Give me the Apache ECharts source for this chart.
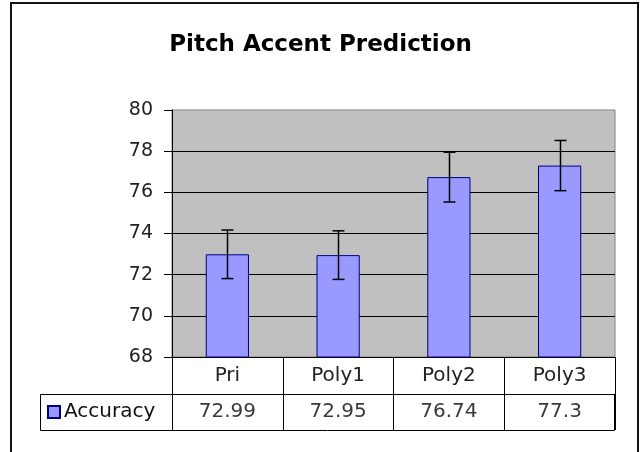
<!DOCTYPE html>
<html>
<head>
<meta charset="utf-8">
<script src="https://cdn.jsdelivr.net/npm/echarts@6/dist/echarts.min.js"></script>
<style>
  html, body { margin: 0; padding: 0; background: #fff; }
  #chart { width: 641px; height: 452px; }
</style>
</head>
<body>
<div id="chart"></div>
<script>
var categories = ['Pri', 'Poly1', 'Poly2', 'Poly3'];
var accuracy = [72.99, 72.95, 76.74, 77.3];
var errors = [1.18, 1.18, 1.21, 1.22];
var yTicks = {min: 68, max: 80, interval: 2};

var font = 'DejaVu Sans, Liberation Sans, sans-serif';
var chart = echarts.init(document.getElementById('chart'));

var option = {
  backgroundColor: '#fff',
  animation: false,
  title: {
    text: 'Pitch Accent Prediction',
    left: 'center',
    top: 34,
    padding: 0,
    textStyle: {fontFamily: font, fontWeight: 'bold', fontSize: 23, color: '#000'}
  },
  legend: {
    data: ['Accuracy'],
    left: 47,
    top: 402,
    padding: 0,
    icon: 'rect',
    itemWidth: 12,
    itemHeight: 12,
    itemGap: 5,
    textStyle: {fontFamily: font, fontSize: 20, color: '#111', padding: [0, 0, 0, -1]}
  },
  grid: {
    left: 172, right: 26, top: 110, bottom: 95,
    show: true,
    backgroundColor: '#C0C0C0',
    borderColor: '#808080',
    borderWidth: 1
  },
  xAxis: [
    {
      type: 'category',
      data: categories,
      position: 'bottom',
      axisLine: {show: true, lineStyle: {color: '#000', width: 1}},
      axisTick: {show: true, length: 37, lineStyle: {color: '#000'}},
      axisLabel: {fontFamily: font, fontSize: 20, color: '#222', margin: 19, verticalAlign: 'middle'},
      splitLine: {show: false}
    },
    {
      type: 'category',
      data: categories,
      position: 'bottom',
      offset: 37,
      axisLine: {show: true, lineStyle: {color: '#000', width: 1}},
      axisTick: {show: true, length: 36, lineStyle: {color: '#000'}},
      axisLabel: {
        fontFamily: font, fontSize: 20, color: '#3a3a3a', margin: 18, verticalAlign: 'middle',
        formatter: function (v, i) { return String(accuracy[i]); }
      },
      splitLine: {show: false}
    }
  ],
  yAxis: {
    type: 'value',
    min: yTicks.min,
    max: yTicks.max,
    interval: yTicks.interval,
    axisLine: {show: true, lineStyle: {color: '#000', width: 1}},
    axisTick: {show: true, length: 8, lineStyle: {color: '#000'}},
    axisLabel: {fontFamily: font, fontSize: 19, color: '#222', margin: 19},
    splitLine: {show: true, showMaxLine: false, showMinLine: false, lineStyle: {color: '#000', width: 1}}
  },
  series: [
    {
      name: 'Accuracy',
      type: 'bar',
      data: accuracy,
      barWidth: '39%',
      itemStyle: {color: '#9999FF', borderColor: '#000080', borderWidth: 1}
    },
    {
      name: 'error',
      type: 'custom',
      data: accuracy.map(function (v, i) { return [i, v - errors[i], v + errors[i]]; }),
      renderItem: function (params, api) {
        var i = api.value(0);
        var lo = api.coord([i, api.value(1)]);
        var hi = api.coord([i, api.value(2)]);
        var x = Math.round(lo[0]) + 0.5;
        var cap = 6;
        var style = {stroke: '#000', lineWidth: 1.5};
        return {
          type: 'group',
          children: [
            {type: 'line', shape: {x1: x, y1: lo[1], x2: x, y2: hi[1]}, style: style},
            {type: 'line', shape: {x1: x - cap, y1: hi[1], x2: x + cap, y2: hi[1]}, style: style},
            {type: 'line', shape: {x1: x - cap, y1: lo[1], x2: x + cap, y2: lo[1]}, style: style}
          ]
        };
      },
      z: 5
    }
  ],
  graphic: [
    {
      type: 'rect',
      shape: {x: 11, y: 3, width: 627, height: 470},
      style: {fill: null, stroke: '#111', lineWidth: 2},
      silent: true
    },
    {
      type: 'rect',
      shape: {x: 40.5, y: 394.5, width: 574, height: 36},
      style: {fill: null, stroke: '#000', lineWidth: 1},
      silent: true
    }
  ]
};

chart.setOption(option);
</script>
</body>
</html>
